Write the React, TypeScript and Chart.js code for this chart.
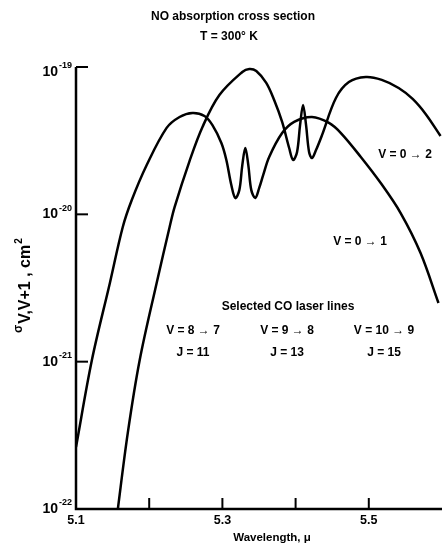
import React, { useEffect, useRef } from "react";
import { Chart, registerables } from "chart.js";

Chart.register(...registerables);

// Wavelength (micron) and cross section (cm^2) for the V = 0 -> 1 curve
const wavelength01 = [5.100, 5.1218, 5.1463, 5.1639, 5.1762, 5.1966, 5.2238, 5.2415, 5.2592, 5.2755, 5.2864, 5.2986, 5.3054, 5.3122, 5.3177, 5.3231, 5.3272, 5.3313, 5.3354, 5.3395, 5.3449, 5.3503, 5.3558, 5.3639, 5.3816, 5.398, 5.4224, 5.4456, 5.4619, 5.4891, 5.5163, 5.5435, 5.5707, 5.5952];
const sigma01 = [2.63e-22, 1.03e-21, 3.42e-21, 8.2e-21, 1.25e-20, 2.16e-20, 3.86e-20, 4.58e-20, 4.88e-20, 4.65e-20, 4.03e-20, 3.05e-20, 2.34e-20, 1.58e-20, 1.29e-20, 1.46e-20, 2.16e-20, 2.82e-20, 2.16e-20, 1.46e-20, 1.29e-20, 1.51e-20, 1.85e-20, 2.45e-20, 3.56e-20, 4.24e-20, 4.58e-20, 4.17e-20, 3.56e-20, 2.45e-20, 1.63e-20, 1.02e-20, 5.46e-21, 2.5e-21];

// Wavelength (micron) and cross section (cm^2) for the V = 0 -> 2 curve
const wavelength02 = [5.156, 5.1707, 5.1871, 5.2102, 5.2279, 5.2347, 5.2551, 5.2728, 5.2959, 5.3272, 5.3367, 5.3463, 5.3599, 5.3707, 5.3816, 5.3912, 5.3966, 5.402, 5.4061, 5.4102, 5.4143, 5.4184, 5.4224, 5.4279, 5.4361, 5.4551, 5.4728, 5.4959, 5.5177, 5.5408, 5.5599, 5.5776, 5.598];
const sigma02 = [9e-23, 3.27e-22, 1.03e-21, 3.42e-21, 8.2e-21, 1.12e-20, 2.3e-20, 3.92e-20, 6.45e-20, 9.25e-20, 9.7e-20, 9.4e-20, 7.8e-20, 5.97e-20, 4.24e-20, 2.82e-20, 2.34e-20, 2.65e-20, 4.03e-20, 5.52e-20, 4.03e-20, 2.65e-20, 2.41e-20, 2.73e-20, 3.45e-20, 6.16e-20, 7.9e-20, 8.55e-20, 8.17e-20, 7.2e-20, 6.07e-20, 4.8e-20, 3.4e-20];

const xTickValues = [5.1, 5.2, 5.3, 5.4, 5.5];
const xTickLabels = ["5.1", "", "5.3", "", "5.5"];
const yTickExponents = [-22, -21, -20, -19];

const titleLines = ["NO absorption cross section", "T = 300° K"];
const xAxisTitle = "Wavelength, μ";
const yAxisSigma = "σ";
const yAxisMain = "V,V+1 , cm";
const yAxisPower = "2";
const bandLabels = ["V = 0 → 1", "V = 0 → 2"];
const laserHeading = "Selected CO laser lines";
const laserBands = ["V = 8 → 7", "V = 9 → 8", "V = 10 → 9"];
const laserJ = ["J = 11", "J = 13", "J = 15"];

const FONT = '"Liberation Sans", Arial, Helvetica, sans-serif';

const decorPlugin = {
  id: "decor",
  afterDraw(chart: any) {
    const { ctx, chartArea: a, scales } = chart;
    const xs = scales.x;
    const ys = scales.y;
    ctx.save();
    ctx.strokeStyle = "#000";
    ctx.fillStyle = "#000";
    ctx.lineCap = "butt";

    // axes
    ctx.lineWidth = 2.5;
    ctx.beginPath();
    ctx.moveTo(a.left, a.top);
    ctx.lineTo(a.left, a.bottom);
    ctx.lineTo(a.right, a.bottom);
    ctx.stroke();

    // y ticks (inward)
    ctx.lineWidth = 2;
    yTickExponents.forEach((e) => {
      const y = ys.getPixelForValue(Math.pow(10, e));
      ctx.beginPath();
      ctx.moveTo(a.left, y);
      ctx.lineTo(a.left + 12, y);
      ctx.stroke();
    });
    // x ticks (inward)
    xTickValues.forEach((v, i) => {
      if (i === 0) return;
      const x = xs.getPixelForValue(v);
      ctx.beginPath();
      ctx.moveTo(x, a.bottom);
      ctx.lineTo(x, a.bottom - 11);
      ctx.stroke();
    });

    // y tick labels 10^e
    yTickExponents.forEach((e, i) => {
      const y = ys.getPixelForValue(Math.pow(10, e)) + (i === yTickExponents.length - 1 ? 5 : 0);
      ctx.font = `bold 9px ${FONT}`;
      const expText = String(e);
      const expW = ctx.measureText(expText).width;
      ctx.font = `bold 14px ${FONT}`;
      const tenW = ctx.measureText("10").width;
      const right = a.left - 4;
      ctx.textBaseline = "middle";
      ctx.textAlign = "left";
      ctx.fillText("10", right - expW - tenW - 1, y);
      ctx.font = `bold 9px ${FONT}`;
      ctx.fillText(expText, right - expW, y - 6);
    });

    // x tick labels
    ctx.font = `bold 12.5px ${FONT}`;
    ctx.textAlign = "center";
    ctx.textBaseline = "middle";
    xTickValues.forEach((v, i) => {
      if (!xTickLabels[i]) return;
      ctx.fillText(xTickLabels[i], xs.getPixelForValue(v), a.bottom + 12);
    });

    // x axis title
    ctx.font = `bold 11.5px ${FONT}`;
    ctx.fillText(xAxisTitle, 272, 538);

    // titles
    ctx.font = `bold 12px ${FONT}`;
    ctx.fillText(titleLines[0], 233, 17);
    ctx.fillText(titleLines[1], 229, 37);

    // band labels
    ctx.fillText(bandLabels[1], 405, 155);
    ctx.fillText(bandLabels[0], 360, 242);

    // laser lines block
    ctx.fillText(laserHeading, 288, 307);
    const laserX = [193, 287, 384];
    laserBands.forEach((t, i) => ctx.fillText(t, laserX[i], 331));
    laserJ.forEach((t, i) => ctx.fillText(t, laserX[i], 353));

    // y axis title (rotated)
    ctx.save();
    ctx.translate(30, 0);
    ctx.rotate(-Math.PI / 2);
    ctx.textAlign = "left";
    ctx.textBaseline = "alphabetic";
    let lx = -333;
    ctx.font = `bold 12px ${FONT}`;
    ctx.fillText(yAxisSigma, lx, -8);
    lx += ctx.measureText(yAxisSigma).width + 1;
    ctx.font = `bold 16px ${FONT}`;
    ctx.fillText(yAxisMain, lx, 0);
    lx += ctx.measureText(yAxisMain).width + 1;
    ctx.font = `bold 10px ${FONT}`;
    ctx.fillText(yAxisPower, lx, -8);
    ctx.restore();

    ctx.restore();
  },
};

export default function App() {
  const canvasRef = useRef<HTMLCanvasElement | null>(null);

  useEffect(() => {
    document.body.style.margin = "0";
    const canvas = canvasRef.current;
    if (!canvas) return;
    const lineStyle = {
      borderColor: "#000",
      borderWidth: 2.5,
      pointRadius: 0,
      fill: false,
      tension: 0.35,
      borderJoinStyle: "round" as const,
    };
    const chart = new Chart(canvas, {
      type: "line",
      data: {
        datasets: [
          {
            label: bandLabels[0],
            data: wavelength01.map((x, i) => ({ x, y: sigma01[i] })),
            ...lineStyle,
          },
          {
            label: bandLabels[1],
            data: wavelength02.map((x, i) => ({ x, y: sigma02[i] })),
            ...lineStyle,
          },
        ],
      },
      options: {
        animation: false,
        responsive: false,
        devicePixelRatio: 1,
        layout: { padding: { left: 76, top: 67, right: 0, bottom: 38 } },
        plugins: {
          legend: { display: false },
          tooltip: { enabled: false },
          title: { display: false },
        },
        scales: {
          x: { type: "linear", min: 5.1, max: 5.6, display: false },
          y: { type: "logarithmic", min: 1e-22, max: 1e-19, display: false },
        },
      },
      plugins: [decorPlugin],
    });
    return () => chart.destroy();
  }, []);

  return (
    <div style={{ position: "absolute", left: 0, top: 0, width: 442, height: 547, background: "#fff" }}>
      <canvas ref={canvasRef} width={442} height={547} />
    </div>
  );
}
